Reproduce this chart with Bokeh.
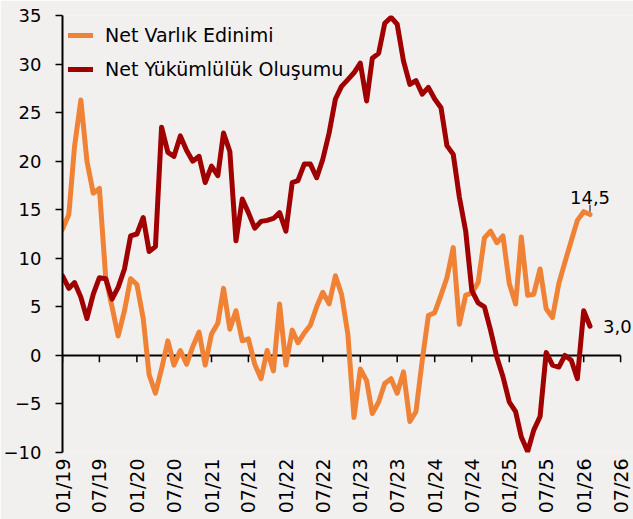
import pandas as pd
from math import pi
from bokeh.plotting import figure
from bokeh.models import (Range1d, FixedTicker, DatetimeTickFormatter,
                          Legend, LegendItem, ColumnDataSource)
from bokeh.core.properties import value
from bokeh.embed import file_html
from bokeh.resources import INLINE

# ---------------- data ----------------
start_month = "2019-01"

net_varlik = [
    13.0, 14.5, 21.5, 26.3, 20.0, 16.7, 17.2, 8.0, 5.0, 2.0,
    4.6, 7.9, 7.3, 3.8, -2.0, -3.9, -1.4, 1.5, -1.0, 0.5,
    -0.9, 0.9, 2.4, -1.0, 2.2, 3.3, 6.9, 2.7, 4.6, 1.5,
    1.7, -0.9, -2.4, 0.5, -1.6, 5.3, -1.0, 2.6, 1.3, 2.3,
    3.1, 5.0, 6.5, 5.3, 8.2, 6.3, 2.2, -6.4, -1.4, -2.6,
    -6.0, -4.8, -2.9, -2.4, -3.9, -1.7, -6.8, -5.8, -0.5, 4.1,
    4.4, 6.2, 8.0, 11.1, 3.2, 6.2, 6.4, 7.5, 12.1, 12.8,
    11.6, 12.3, 7.4, 5.3, 12.2, 6.2, 6.3, 8.9, 4.8, 3.9,
    7.4, 9.6, 11.8, 13.9, 14.8, 14.5,
]

net_yukumluluk = [
    8.2, 6.9, 7.5, 6.0, 3.8, 6.3, 8.0, 7.9, 5.8, 7.0,
    8.9, 12.3, 12.5, 14.2, 10.7, 11.2, 23.5, 20.9, 20.5, 22.6,
    21.1, 20.0, 20.5, 17.8, 19.5, 18.5, 22.9, 21.0, 11.8, 16.1,
    14.7, 13.1, 13.8, 13.9, 14.1, 14.7, 12.8, 17.8, 18.0, 19.7,
    19.7, 18.3, 20.2, 22.9, 26.4, 27.7, 28.4, 29.1, 30.1, 26.2,
    30.6, 31.1, 34.2, 34.8, 34.1, 30.3, 27.9, 28.3, 26.9, 27.6,
    26.4, 25.5, 21.6, 20.7, 16.3, 12.8, 6.7, 5.4, 5.0, 2.6,
    -0.2, -2.2, -4.8, -5.8, -8.4, -9.9, -7.7, -6.3, 0.3, -1.0,
    -1.2, 0.0, -0.5, -2.4, 4.6, 3.0,
]

series_names = ["Net Varlık Edinimi", "Net Yükümlülük Oluşumu"]

x_tick_labels = ["01/19", "07/19", "01/20", "07/20", "01/21", "07/21", "01/22",
                 "07/22", "01/23", "07/23", "01/24", "07/24", "01/25", "07/25",
                 "01/26", "07/26"]
y_ticks = [-10, -5, 0, 5, 10, 15, 20, 25, 30, 35]

# ---------------- styling ----------------
BG = "#F2F0EF"
ORANGE = "#EF8234"
RED = "#A00000"
FONT = "DejaVu Sans"

W, H = 633, 519
LEFT, RIGHT_PAD, TOP, BOTTOM = 58, 13, 15, 67   # axis area (07/26 sits at W-RIGHT_PAD)

dates = pd.date_range(start_month, periods=len(net_varlik), freq="MS")
tick_dates = pd.to_datetime(x_tick_labels, format="%m/%y")
tick_ms = [d.timestamp() * 1000 for d in tick_dates]

# the frame runs to the right edge so end labels are not clipped;
# the axis itself (zero line) stops at the last tick (07/26)
axis_px = W - RIGHT_PAD - LEFT
frame_px = W - LEFT
x_end = tick_ms[0] + (tick_ms[-1] - tick_ms[0]) * frame_px / axis_px

p = figure(width=W, height=H, x_axis_type="datetime",
           x_range=Range1d(tick_ms[0], x_end),
           y_range=Range1d(y_ticks[0], y_ticks[-1]),
           output_backend="svg", toolbar_location=None,
           min_border_left=LEFT, min_border_right=0, min_border_top=TOP,
           min_border_bottom=BOTTOM,
           background_fill_color=BG, border_fill_color=BG)
p.outline_line_color = None
p.grid.visible = False

# y axis
ya = p.yaxis[0]
ya.ticker = FixedTicker(ticks=y_ticks)
ya.axis_line_color = "black"
ya.axis_line_width = 2
ya.major_tick_line_color = "black"
ya.major_tick_line_width = 1.5
ya.major_tick_out = 7
ya.major_tick_in = 0
ya.minor_tick_line_color = None
ya.major_label_text_font = FONT
ya.major_label_text_font_size = "18px"
ya.major_label_text_color = "black"
ya.major_label_standoff = 14

# x axis (labels only; zero line carries the ticks)
xa = p.xaxis[0]
xa.ticker = FixedTicker(ticks=tick_ms)
xa.formatter = DatetimeTickFormatter(
    milliseconds="%m/%y", seconds="%m/%y", minsec="%m/%y", minutes="%m/%y",
    hourmin="%m/%y", hours="%m/%y", days="%m/%y", months="%m/%y", years="%m/%y")
xa.axis_line_color = None
xa.major_tick_line_color = None
xa.major_tick_out = 0
xa.major_tick_in = 0
xa.minor_tick_line_color = None
xa.major_label_orientation = pi / 2
xa.major_label_standoff = 6
xa.major_label_text_font = FONT
xa.major_label_text_font_size = "19px"
xa.major_label_text_color = "black"

# zero line (from first to last tick) with downward ticks
p.segment(x0=[tick_dates[0]], y0=[0], x1=[tick_dates[-1]], y1=[0],
          line_color="black", line_width=2)
p.segment(x0=tick_dates, y0=[0] * len(tick_dates), x1=tick_dates,
          y1=[-0.7] * len(tick_dates), line_color="black", line_width=1.5)

# series
r1 = p.line(dates, net_varlik, line_color=ORANGE, line_width=5,
            line_join="round", line_cap="round")
r2 = p.line(dates, net_yukumluluk, line_color=RED, line_width=5,
            line_join="round", line_cap="round")

legend = Legend(items=[LegendItem(label=series_names[0], renderers=[r1]),
                       LegendItem(label=series_names[1], renderers=[r2])],
                location="top_left", margin=6, padding=9, spacing=6,
                glyph_width=25, glyph_height=28, label_height=28,
                label_standoff=12, background_fill_alpha=0,
                border_line_color=None,
                label_text_font=FONT, label_text_font_size="19px",
                label_text_color="black")
p.add_layout(legend)

# end labels
def fmt(v):
    return f"{v:.1f}".replace(".", ",")

src_a = ColumnDataSource(dict(x=[dates[-1]], y=[net_varlik[-1]], t=[fmt(net_varlik[-1])]))
src_b = ColumnDataSource(dict(x=[dates[-1]], y=[net_yukumluluk[-1]], t=[fmt(net_yukumluluk[-1])]))

p.segment(x0=[dates[-1]], y0=[net_varlik[-1] + 0.3], x1=[dates[-1]],
          y1=[net_varlik[-1] + 1.0], line_color="black", line_width=1)
p.text(x="x", y="y", text="t", source=src_a, text_align="center",
       text_baseline="alphabetic", y_offset=-17, text_font=value(FONT),
       text_font_size="18px", text_color="black")
p.text(x="x", y="y", text="t", source=src_b, text_align="left",
       text_baseline="middle", x_offset=13, text_font=value(FONT),
       text_font_size="18px", text_color="black")

open("out.html", "w").write(file_html(p, INLINE))
